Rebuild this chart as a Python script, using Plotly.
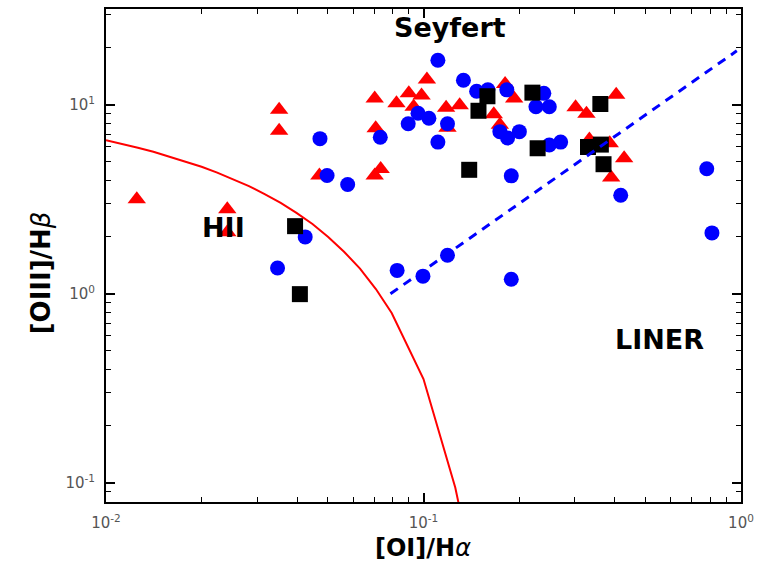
import math
import plotly.graph_objects as go

# ---- data ----
circ_x = [0.0347, 0.0424, 0.0472, 0.0497, 0.0577, 0.0731, 0.0826, 0.0895, 0.0961, 0.0996,
          0.104, 0.111, 0.119, 0.111, 0.119, 0.1336, 0.147, 0.1595, 0.183, 0.174,
          0.184, 0.189, 0.189, 0.2004, 0.2393, 0.226, 0.249, 0.249, 0.2704, 0.418,
          0.780, 0.810]
circ_y = [1.37, 2.00, 6.62, 4.23, 3.79, 6.74, 1.33, 7.94, 9.02, 1.24,
          8.49, 17.2, 7.94, 6.35, 1.60, 13.5, 11.8, 12.0, 12.0, 7.21,
          6.67, 1.195, 4.21, 7.21, 11.5, 9.76, 9.76, 6.13, 6.35, 3.32,
          4.59, 2.10]

tri_x = [0.0125, 0.0241, 0.0241, 0.0351, 0.0351, 0.0470, 0.0702, 0.0707, 0.0702, 0.0733,
         0.0822, 0.0899, 0.0986, 0.0931, 0.1025, 0.1178, 0.130, 0.119, 0.1807, 0.193,
         0.1665, 0.174, 0.3013, 0.326, 0.4045, 0.386, 0.4285, 0.390, 0.333]
tri_y = [3.16, 2.80, 2.12, 9.41, 7.28, 4.23, 10.8, 7.52, 4.23, 4.58,
         10.2, 11.5, 11.2, 9.76, 13.6, 9.64, 9.96, 7.57, 12.9, 10.8,
         8.91, 7.85, 9.72, 8.97, 11.3, 6.27, 5.22, 4.13, 6.55]

sq_x = [0.0394, 0.0408, 0.1393, 0.149, 0.159, 0.2203, 0.2288, 0.3297, 0.3606, 0.3619, 0.369]
sq_y = [2.28, 0.996, 4.53, 9.30, 11.1, 11.6, 5.89, 5.98, 10.1, 6.16, 4.85]

curve_x = [0.0100, 0.0112, 0.0126, 0.0141, 0.0158, 0.0178, 0.0200, 0.0224, 0.0251, 0.0282,
           0.0316, 0.0355, 0.0398, 0.0447, 0.0501, 0.0562, 0.0631, 0.0708, 0.0794, 0.1000,
           0.1259, 0.1288]
curve_y = [6.49, 6.22, 5.93, 5.64, 5.33, 5.02, 4.70, 4.38, 4.05, 3.71,
           3.37, 3.03, 2.68, 2.34, 2.00, 1.67, 1.36, 1.06, 0.792, 0.354,
           0.0944, 0.0788]

# Seyfert / LINER dividing line
sl_x = [0.0787, 0.97]
sl_y = [1.0, 19.3]

x_ticks = [0.01, 0.1, 1]
x_ticktext = ["10<sup>-2</sup>", "10<sup>-1</sup>", "10<sup>0</sup>"]
y_ticks = [0.1, 1, 10]
y_ticktext = ["10<sup>-1</sup>", "10<sup>0</sup>", "10<sup>1</sup>"]
x_minor = [0.02, 0.03, 0.04, 0.05, 0.06, 0.07, 0.08, 0.09,
           0.2, 0.3, 0.4, 0.5, 0.6, 0.7, 0.8, 0.9]
y_minor = [0.08, 0.09, 0.2, 0.3, 0.4, 0.5, 0.6, 0.7, 0.8, 0.9,
           2, 3, 4, 5, 6, 7, 8, 9, 20, 30]

labels = ["Seyfert", "HII", "LINER"]
label_x = [0.121, 0.0235, 0.555]
label_y = [25.6, 2.25, 0.57]

fig = go.Figure()
fig.add_trace(go.Scatter(x=tri_x, y=tri_y, mode="markers",
                         marker=dict(symbol="triangle-up", size=16, color="#ff0000",
                                     line=dict(width=0))))
fig.add_trace(go.Scatter(x=circ_x, y=circ_y, mode="markers",
                         marker=dict(symbol="circle", size=15, color="#0000ff",
                                     line=dict(width=0))))
fig.add_trace(go.Scatter(x=sq_x, y=sq_y, mode="markers",
                         marker=dict(symbol="square", size=16, color="#000000",
                                     line=dict(width=0))))
fig.add_trace(go.Scatter(x=curve_x, y=curve_y, mode="lines",
                         line=dict(color="#ff0000", width=2)))
fig.add_trace(go.Scatter(x=sl_x, y=sl_y, mode="lines",
                         line=dict(color="#0000ff", width=3, dash="9px,7px")))

axis_common = dict(
    type="log", showgrid=False, zeroline=False,
    showline=True, linecolor="black", linewidth=2, mirror="ticks",
    ticks="inside", ticklen=9, tickwidth=1.5, tickcolor="black",
    tickfont=dict(family="DejaVu Sans", size=15, color="#555555"),
    ticklabelstandoff=6,
)

fig.update_xaxes(**axis_common, range=[-2, 0], tickmode="array",
                 tickvals=x_ticks, ticktext=x_ticktext,
                 minor=dict(tickmode="array", tickvals=x_minor, ticks="inside",
                            ticklen=5, tickwidth=1.2, tickcolor="black", showgrid=False))
fig.update_yaxes(**axis_common, range=[-1.1016, 1.507], tickmode="array",
                 tickvals=y_ticks, ticktext=y_ticktext,
                 minor=dict(tickmode="array", tickvals=y_minor, ticks="inside",
                            ticklen=5, tickwidth=1.2, tickcolor="black", showgrid=False))

annotations = []
for t, ax_, ay_ in zip(labels, label_x, label_y):
    annotations.append(dict(x=math.log10(ax_), y=math.log10(ay_),
                            xref="x", yref="y", text="<b>%s</b>" % t, showarrow=False,
                            xanchor="center", yanchor="middle",
                            font=dict(family="DejaVu Sans", size=27, color="black")))
annotations.append(dict(x=0.499, y=-0.093, xref="paper", yref="paper",
                        text="<b>[OI]/H</b><i>α</i>", showarrow=False,
                        xanchor="center", yanchor="middle", borderpad=0,
                        font=dict(family="DejaVu Sans", size=24, color="black")))
annotations.append(dict(x=-0.103, y=0.465, xref="paper", yref="paper",
                        text="<b>[OIII]/H</b><i>β</i>", showarrow=False, textangle=-90,
                        xanchor="center", yanchor="middle",
                        font=dict(family="DejaVu Sans", size=26, color="black")))

fig.update_layout(
    width=761, height=564,
    margin=dict(l=106, r=14, t=7, b=62),
    paper_bgcolor="white", plot_bgcolor="white",
    showlegend=False,
    annotations=annotations,
)

fig.write_html("out.html")
